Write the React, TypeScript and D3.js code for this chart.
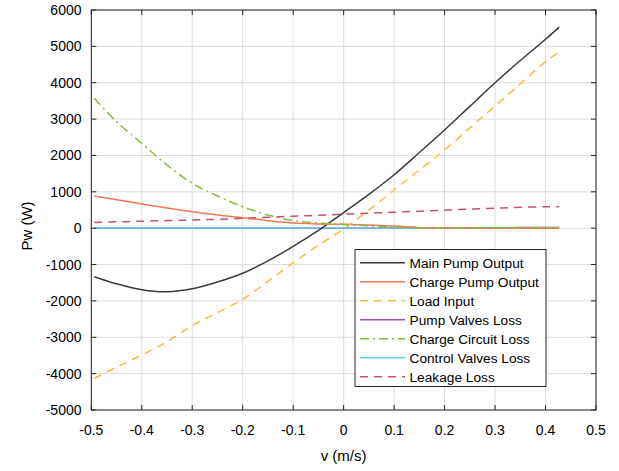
import React from "react";
import * as d3 from "d3";

const vVals = [-0.494, -0.45, -0.4, -0.35, -0.3, -0.25, -0.2, -0.15, -0.1, -0.05, 0, 0.05, 0.1, 0.15, 0.2, 0.25, 0.3, 0.35, 0.4, 0.427];
const mainPump = [-1334, -1530, -1690, -1745, -1665, -1480, -1240, -900, -500, -60, 430, 930, 1470, 2080, 2700, 3350, 4000, 4610, 5195, 5530];
const chargePump = [888, 780, 665, 555, 455, 365, 290, 206, 140, 118, 105, 85, 60, 15, 0, 0, 0, 0, 0, 0];
const loadInput = [-4128, -3820, -3487, -3120, -2680, -2320, -1955, -1460, -948, -470, -20, 500, 1050, 1600, 2150, 2760, 3360, 3970, 4580, 4850];
const pumpValves = [0, 0, 0, 0, 0, 0, 0, 0, 0, 0, 0, 2, 5, 8, 10, 12, 14, 16, 18, 20];
const chargeCircuit = [3572, 2930, 2335, 1738, 1235, 885, 591, 363, 210, 140, 100, 65, 30, 8, 5, 8, 10, 12, 14, 15];
const controlValves = [5, 5, 5, 5, 5, 5, 5, 5, 5, 5, 5, 5, 5, 5, 5, 5, 5, 5, 5, 5];
const leakage = [158, 175, 192, 208, 222, 245, 271, 300, 330, 355, 385, 412, 440, 465, 495, 525, 550, 575, 590, 592];

const xTicks = [-0.5, -0.4, -0.3, -0.2, -0.1, 0, 0.1, 0.2, 0.3, 0.4, 0.5];
const yTicks = [-5000, -4000, -3000, -2000, -1000, 0, 1000, 2000, 3000, 4000, 5000, 6000];

const seriesNames = ["Main Pump Output", "Charge Pump Output", "Load Input", "Pump Valves Loss", "Charge Circuit Loss", "Control Valves Loss", "Leakage Loss"];
const seriesData = [mainPump, chargePump, loadInput, pumpValves, chargeCircuit, controlValves, leakage];
const seriesColors = ["#3a3a3a", "#F07850", "#F5BE41", "#9B4DB8", "#86BB3C", "#66CCF0", "#C8506A"];
const seriesDash = ["", "", "8,6", "", "9,4,2,4", "", "8,6"];
const drawOrder = [3, 5, 0, 1, 2, 4, 6];

export default function App() {
  const W = 619, H = 471;
  const left = 91.3, right = 596, top = 10, bottom = 410;
  const x = d3.scaleLinear().domain([-0.5, 0.5]).range([left, right]);
  const y = d3.scaleLinear().domain([-5000, 6000]).range([bottom, top]);
  const axisColor = "#262626";
  const font = "'Liberation Sans', Arial, Helvetica, sans-serif";

  const makeLine = (vals: number[]) =>
    d3.line<number>()
      .x((_, i) => x(vVals[i]))
      .y((d) => y(d))
      .curve(d3.curveCatmullRom.alpha(0.5))(vals) || "";

  const legX = 355, legY = 249.5, legW = 191, legH = 137;
  const rowY0 = 262.7, rowStep = 19;

  return (
    <svg width={W} height={H} style={{ position: "absolute", left: 0, top: 0, background: "#fff" }}>
      <rect x={0} y={0} width={W} height={H} fill="#fff" />
      {xTicks.map((t) => (
        <line key={"gx" + t} x1={x(t)} x2={x(t)} y1={top} y2={bottom} stroke="#dcdcdc" strokeWidth={1} />
      ))}
      {yTicks.map((t) => (
        <line key={"gy" + t} x1={left} x2={right} y1={y(t)} y2={y(t)} stroke="#dcdcdc" strokeWidth={1} />
      ))}
      {drawOrder.map((i) => (
        <path key={"s" + i} d={makeLine(seriesData[i])} fill="none" stroke={seriesColors[i]}
          strokeWidth={1.5} strokeDasharray={seriesDash[i] || undefined} />
      ))}
      <rect x={left} y={top} width={right - left} height={bottom - top} fill="none" stroke={axisColor} strokeWidth={1} />
      {xTicks.map((t) => (
        <g key={"tx" + t}>
          <line x1={x(t)} x2={x(t)} y1={bottom} y2={bottom - 5} stroke={axisColor} />
          <line x1={x(t)} x2={x(t)} y1={top} y2={top + 5} stroke={axisColor} />
          <text x={x(t)} y={435} textAnchor="middle" fontFamily={font} fontSize={14} fill="#000">{String(t)}</text>
        </g>
      ))}
      {yTicks.map((t) => (
        <g key={"ty" + t}>
          <line x1={left} x2={left + 5} y1={y(t)} y2={y(t)} stroke={axisColor} />
          <line x1={right} x2={right - 5} y1={y(t)} y2={y(t)} stroke={axisColor} />
          <text x={81.5} y={y(t) + 5} textAnchor="end" fontFamily={font} fontSize={14} fill="#000">{String(t)}</text>
        </g>
      ))}
      <text x={343.6} y={461} textAnchor="middle" fontFamily={font} fontSize={15} fill="#000">v (m/s)</text>
      <text transform={`translate(32, 226) rotate(-90)`} textAnchor="middle" fontFamily={font} fontSize={15} fill="#000">Pw (W)</text>
      <rect x={legX} y={legY} width={legW} height={legH} fill="#fff" stroke={axisColor} strokeWidth={1} />
      {seriesNames.map((n, i) => (
        <g key={"l" + i}>
          <line x1={360} x2={405} y1={rowY0 + i * rowStep} y2={rowY0 + i * rowStep} stroke={seriesColors[i]}
            strokeWidth={1.5} strokeDasharray={seriesDash[i] || undefined} />
          <text x={409.5} y={rowY0 + i * rowStep + 5} fontFamily={font} fontSize={13.7} fill="#000">{n}</text>
        </g>
      ))}
    </svg>
  );
}
